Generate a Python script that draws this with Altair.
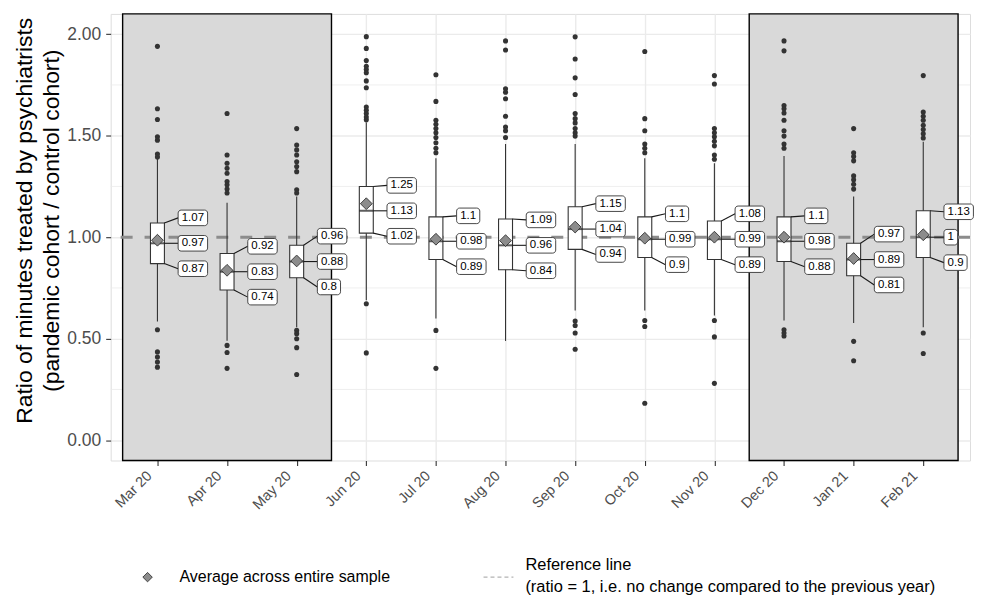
import json
import altair as alt
import pandas as pd

# ---------------- data ----------------
months = ["Mar 20", "Apr 20", "May 20", "Jun 20", "Jul 20", "Aug 20",
          "Sep 20", "Oct 20", "Nov 20", "Dec 20", "Jan 21", "Feb 21"]
q3 = [1.07, 0.92, 0.96, 1.25, 1.10, 1.09, 1.15, 1.10, 1.08, 1.10, 0.97, 1.13]
median = [0.97, 0.83, 0.88, 1.13, 0.98, 0.96, 1.04, 0.99, 0.99, 0.98, 0.89, 1.00]
q1 = [0.87, 0.74, 0.80, 1.02, 0.89, 0.84, 0.94, 0.90, 0.89, 0.88, 0.81, 0.90]
mean = [0.985, 0.837, 0.883, 1.165, 0.990, 0.983, 1.050, 0.995, 1.000, 1.000, 0.895, 1.012]
whisker_high = [1.385, 1.17, 1.20, 1.565, 1.389, 1.459, 1.459, 1.389, 1.364, 1.40, 1.20, 1.47]
whisker_low = [0.585, 0.49, 0.557, 0.69, 0.60, 0.489, 0.639, 0.639, 0.614, 0.59, 0.577, 0.557]
outliers = {
    "Mar 20": [1.94, 1.633, 1.58, 1.495, 1.478, 1.41, 1.395, 0.544, 0.435, 0.41, 0.385, 0.36],
    "Apr 20": [1.609, 1.405, 1.364, 1.34, 1.315, 1.274, 1.258, 1.237, 1.218, 0.467, 0.432, 0.354],
    "May 20": [1.535, 1.454, 1.43, 1.405, 1.372, 1.348, 1.323, 1.234, 1.218,
               0.541, 0.525, 0.50, 0.456, 0.324],
    "Jun 20": [1.988, 1.93, 1.87, 1.842, 1.826, 1.81, 1.77, 1.736, 1.641, 1.625, 1.609,
               1.592, 1.578, 0.672, 0.43],
    "Jul 20": [1.80, 1.669, 1.576, 1.556, 1.535, 1.514, 1.491, 1.465, 1.438, 1.416, 0.541, 0.354],
    "Aug 20": [1.967, 1.922, 1.731, 1.714, 1.682, 1.596, 1.543, 1.524, 1.491],
    "Sep 20": [1.987, 1.878, 1.785, 1.703, 1.609, 1.584, 1.563, 1.535, 1.514, 1.498,
               0.587, 0.565, 0.528, 0.448],
    "Oct 20": [1.915, 1.584, 1.524, 1.459, 1.438, 1.416, 0.59, 0.56, 0.182],
    "Nov 20": [1.796, 1.755, 1.535, 1.514, 1.495, 1.473, 1.45, 1.405, 1.384, 0.59, 0.509, 0.28],
    "Dec 20": [1.967, 1.918, 1.649, 1.633, 1.612, 1.576, 1.524, 1.498, 1.459, 1.438,
               0.544, 0.528, 0.513],
    "Jan 21": [1.535, 1.416, 1.397, 1.376, 1.302, 1.283, 1.261, 1.237, 0.487, 0.391],
    "Feb 21": [1.796, 1.617, 1.596, 1.576, 1.551, 1.53, 1.51, 1.489, 0.528, 0.427],
}
shaded_periods = [("Mar 20", "May 20"), ("Dec 20", "Feb 21")]
reference_value = 1.0
y_ticks = [0.0, 0.5, 1.0, 1.5, 2.0]
y_minor = [0.25, 0.75, 1.25, 1.75]
y_title = ["Ratio of minutes treated by psychiatrists", "(pandemic cohort / control cohort)"]
legend_mean = "Average across entire sample"
legend_ref = ["Reference line", "(ratio = 1, i.e. no change compared to the previous year)"]

# ---------------- layout ----------------
W, H = 862, 448
XDOM = [0.4, 12.6]
YDOM = [-0.1, 2.1]
xpx = W / (XDOM[1] - XDOM[0])
ypx = H / (YDOM[1] - YDOM[0])
FONT = "Liberation Sans"

pos = list(range(1, len(months) + 1))
box_df = pd.DataFrame({"month": months, "pos": pos, "q1": q1, "median": median, "q3": q3,
                       "mean": mean, "lo": whisker_low, "hi": whisker_high})

out_rows = []
for m, vals in outliers.items():
    for v in vals:
        out_rows.append({"pos": months.index(m) + 1, "v": v})
out_df = pd.DataFrame(out_rows)

shade_df = pd.DataFrame([{"x0": months.index(a) + 1 - 0.5, "x1": months.index(b) + 1 + 0.5}
                         for a, b in shaded_periods])


def fmt(v):
    return f"{v:g}"


lab_rows = []
for i, m in enumerate(months):
    p = i + 1
    for k, v in ((1, q3[i]), (0, median[i]), (-1, q1[i])):
        s = fmt(v)
        wpx = 7.5 + 6.4 * sum(c.isdigit() for c in s) + 3.2 * s.count(".")
        xl = p + 21 / xpx
        ly = median[i] + k * 25.5 / ypx
        lab_rows.append({"pos": p, "v": v, "txt": s, "x0": p + 7 / xpx, "xl": xl,
                         "xr": xl + wpx / xpx, "xc": xl + wpx / xpx / 2,
                         "ly": ly, "ly0": ly - 7.8 / ypx, "ly1": ly + 7.8 / ypx})
lab_df = pd.DataFrame(lab_rows)

xscale = alt.Scale(domain=XDOM, nice=False, zero=False)
yscale = alt.Scale(domain=YDOM, nice=False, zero=False)
label_expr = json.dumps(months) + "[datum.value - 1]"
xaxis = alt.Axis(values=pos, labelExpr=label_expr, labelAngle=315, labelAlign="right",
                 labelBaseline="top", labelFontSize=14.5, labelColor="#4D4D4D", labelFont=FONT,
                 labelOverlap=False, labelPadding=3, labelOffset=-13,
                 tickColor="#333333", tickSize=5, tickWidth=1.1,
                 grid=True, gridColor="#EBEBEB", gridWidth=1.4, domain=False, title=None)
yaxis = alt.Axis(values=y_ticks, format=".2f", labelFontSize=17.5, labelColor="#4D4D4D",
                 labelFont=FONT, labelPadding=5, tickColor="#333333", tickSize=5, tickWidth=1.1,
                 grid=True, gridColor="#EBEBEB", gridWidth=1.4, domain=False,
                 title=y_title, titleFont=FONT, titleFontSize=23, titleFontWeight="normal",
                 titleColor="black", titlePadding=3, titleLineHeight=27, titleY=207,
                 labelOverlap=False)


def X(f):
    return alt.X(f, type="quantitative", scale=xscale, axis=xaxis)


def Y(f):
    return alt.Y(f, type="quantitative", scale=yscale, axis=yaxis)


minor = alt.Chart(pd.DataFrame({"y": y_minor})).mark_rule(
    color="#EBEBEB", strokeWidth=0.8).encode(y=Y("y"))

shade = alt.Chart(shade_df).mark_rect(
    fill="#D9D9D9", stroke="black", strokeWidth=1.4).encode(
    x=X("x0"), x2="x1", y=alt.value(0), y2=alt.value(H))

ref = alt.Chart(pd.DataFrame({"y": [reference_value]})).mark_rule(
    color="#8C8C8C", strokeWidth=3, strokeDash=[12, 12]).encode(y=Y("y"))

whisk = alt.Chart(box_df).mark_rule(color="#333333", strokeWidth=1.1).encode(
    x=X("pos"), y=Y("lo"), y2="hi")

box = alt.Chart(box_df).mark_bar(size=14, fill="white", stroke="#333333",
                                 strokeWidth=1.1).encode(x=X("pos"), y=Y("q1"), y2="q3")

med = alt.Chart(box_df).mark_tick(orient="horizontal", size=14, thickness=2,
                                  color="#1A1A1A").encode(x=X("pos"), y=Y("median"))

conn = alt.Chart(lab_df).mark_rule(color="#1A1A1A", strokeWidth=1.1).encode(
    x=X("x0"), x2="xl", y=Y("v"), y2="ly")

diam = alt.Chart(box_df).mark_point(shape="diamond", filled=True, size=140, fill="#8C8C8C",
                                    stroke="#222222", strokeWidth=0.8, opacity=1).encode(
    x=X("pos"), y=Y("mean"))

pts = alt.Chart(out_df).mark_circle(size=26, color="#333333", opacity=1).encode(
    x=X("pos"), y=Y("v"))

lrect = alt.Chart(lab_df).mark_rect(fill="white", stroke="#333333", strokeWidth=0.9,
                                    cornerRadius=3).encode(
    x=X("xl"), x2="xr", y=Y("ly0"), y2="ly1")

ltext = alt.Chart(lab_df).mark_text(fontSize=11.5, font=FONT, color="black", align="center",
                                    baseline="middle").encode(
    x=X("xc"), y=Y("ly"), text="txt:N")

one = pd.DataFrame({"k": [0]})
leg_d = alt.Chart(one).mark_point(shape="diamond", filled=True, size=90, fill="#8C8C8C",
                                  stroke="#222222", strokeWidth=0.8, opacity=1).encode(
    x=alt.value(37), y=alt.value(565))
leg_t1 = alt.Chart(one).mark_text(fontSize=16, font=FONT, align="left", baseline="middle",
                                  color="black").encode(
    x=alt.value(69), y=alt.value(565), text=alt.value(legend_mean))
leg_l = alt.Chart(one).mark_rule(color="#B3B3B3", strokeWidth=1.2, strokeDash=[4, 3]).encode(
    x=alt.value(374), x2=alt.value(404), y=alt.value(565))
leg_t2 = alt.Chart(one).mark_text(fontSize=16.5, font=FONT, align="left", baseline="middle",
                                  color="black", lineHeight=22).encode(
    x=alt.value(416), y=alt.value(553), text=alt.value(legend_ref))

chart = alt.layer(minor, shade, ref, whisk, box, med, conn, diam, pts, lrect, ltext,
                  leg_d, leg_t1, leg_l, leg_t2).properties(
    width=W, height=H,
    autosize=alt.AutoSizeParams(type="none"),
    padding={"left": 103, "top": 5, "right": 5, "bottom": 135},
).configure_view(stroke="#333333", strokeWidth=1.1).configure(background="white")

chart.save("out.html", embed_options={"renderer": "svg", "actions": False})
